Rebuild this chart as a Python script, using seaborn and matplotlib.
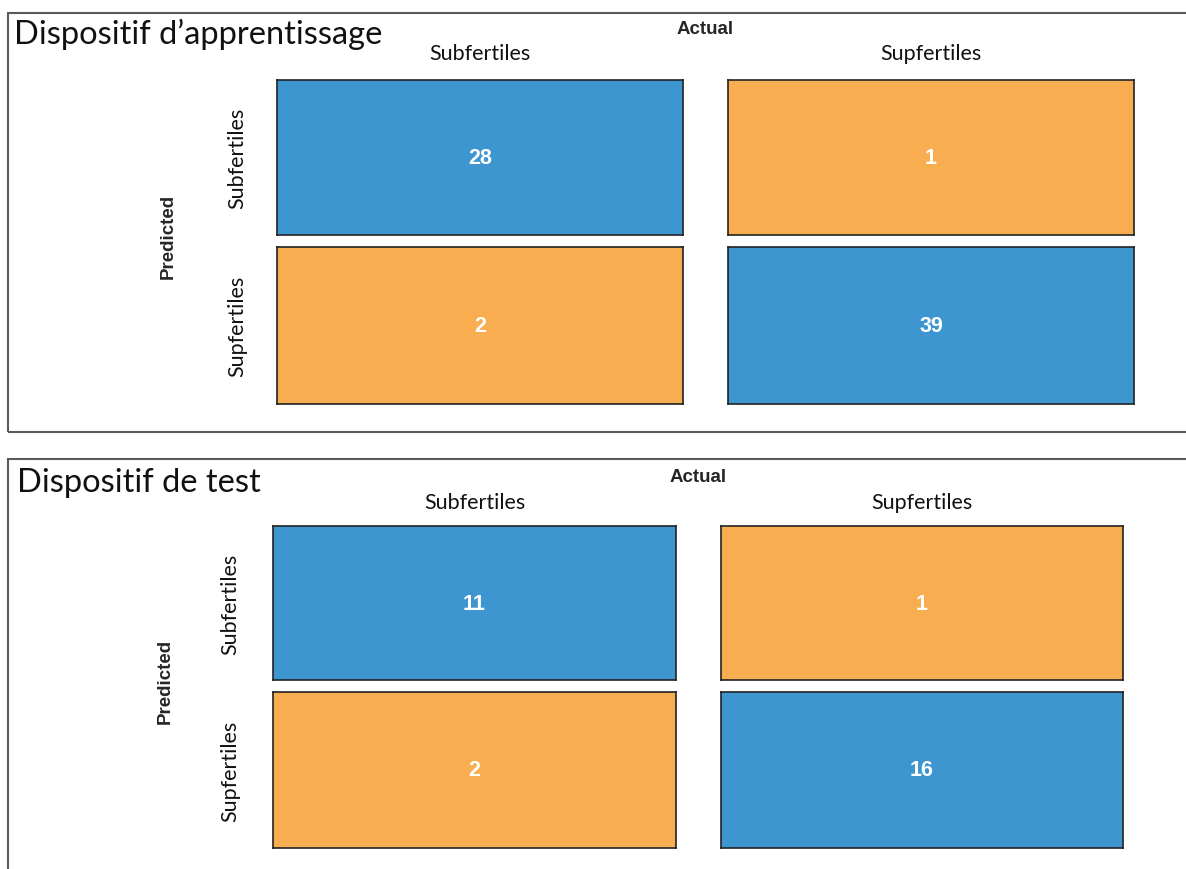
#!/usr/bin/env python3

import matplotlib
matplotlib.use("Agg")
import matplotlib.pyplot as plt
from matplotlib.colors import ListedColormap
from matplotlib.patches import Rectangle
import pandas as pd
import seaborn as sns

# colors
BLUE = "#3E96D0"
ORANGE = "#F7AD50"
FRAME = "#5a5a5a"

# data
classes = ["Subfertiles", "Supfertiles"]
train_counts = [[28, 1], [2, 39]]
test_counts = [[11, 1], [2, 16]]
titles = ["Dispositif d\u2019apprentissage", "Dispositif de test"]

W, H = 1186, 870

sns.set_style("white")
plt.rcParams["font.family"] = ["Lato", "DejaVu Sans"]

fig = plt.figure(figsize=(W / 100, H / 100), dpi=100)


def rect(x0, y0, x1, y1):
    # pixel box -> figure fraction
    return [x0 / W, 1 - y1 / H, (x1 - x0) / W, (y1 - y0) / H]


# layout per panel: frame, cell column edges, cell row edges (pixels)
panels = [
    dict(counts=train_counts, title=titles[0], frame=(8, 14, 1192, 433),
         cols=[(277, 683), (728, 1134)], rows=[(81, 236), (248, 405)],
         title_xy=(14, 34), actual_y=30, col_lab_y=54, row_lab_x=237, pred_x=168),
    dict(counts=test_counts, title=titles[1], frame=(8, 460, 1192, 885),
         cols=[(273, 676), (721, 1123)], rows=[(527, 681), (693, 849)],
         title_xy=(17, 483), actual_y=478, col_lab_y=503, row_lab_x=230, pred_x=165),
]

for p in panels:
    x0, y0, x1, y1 = p["frame"]
    fig.add_artist(Rectangle((x0 / W, 1 - y1 / H), (x1 - x0) / W, (y1 - y0) / H,
                             transform=fig.transFigure, fill=False,
                             edgecolor=FRAME, linewidth=1.5))
    fig.text(p["title_xy"][0] / W, 1 - p["title_xy"][1] / H, p["title"],
             fontsize=23.5, va="center", ha="left", color="#111111")

    for i, (ry0, ry1) in enumerate(p["rows"]):
        for j, (cx0, cx1) in enumerate(p["cols"]):
            ax = fig.add_axes(rect(cx0, ry0, cx1, ry1))
            cell = pd.DataFrame([[p["counts"][i][j]]])
            color = BLUE if i == j else ORANGE
            sns.heatmap(cell, ax=ax, cmap=ListedColormap([color]), annot=True, fmt="d",
                        cbar=False, xticklabels=False, yticklabels=False,
                        annot_kws=dict(color="white", weight="bold", size=15.5,
                                       family="Liberation Sans", va="center"))
            ax.set_xlabel("")
            ax.set_ylabel("")
            for s in ax.spines.values():
                s.set_visible(True)
                s.set_edgecolor("#222222")
                s.set_linewidth(1.2)
            if i == 0:
                fig.text((cx0 + cx1) / 2 / W, 1 - p["col_lab_y"] / H, classes[j],
                         fontsize=15.5, ha="center", va="center", color="#111111")
        fig.text(p["row_lab_x"] / W, 1 - (ry0 + ry1) / 2 / H, classes[i],
                 fontsize=15.5, ha="center", va="center", rotation=90, color="#111111")

    mid_x = (p["cols"][0][1] + p["cols"][1][0]) / 2
    fig.text(mid_x / W, 1 - p["actual_y"] / H, "Actual", fontsize=13.5, weight="bold",
             family="Liberation Sans", ha="center", va="center")
    mid_y = (p["rows"][0][1] + p["rows"][1][0]) / 2 - 6
    fig.text(p["pred_x"] / W, 1 - mid_y / H, "Predicted", fontsize=13.5, weight="bold",
             family="Liberation Sans", ha="center", va="center", rotation=90)

fig.savefig("out.png", dpi=100)
